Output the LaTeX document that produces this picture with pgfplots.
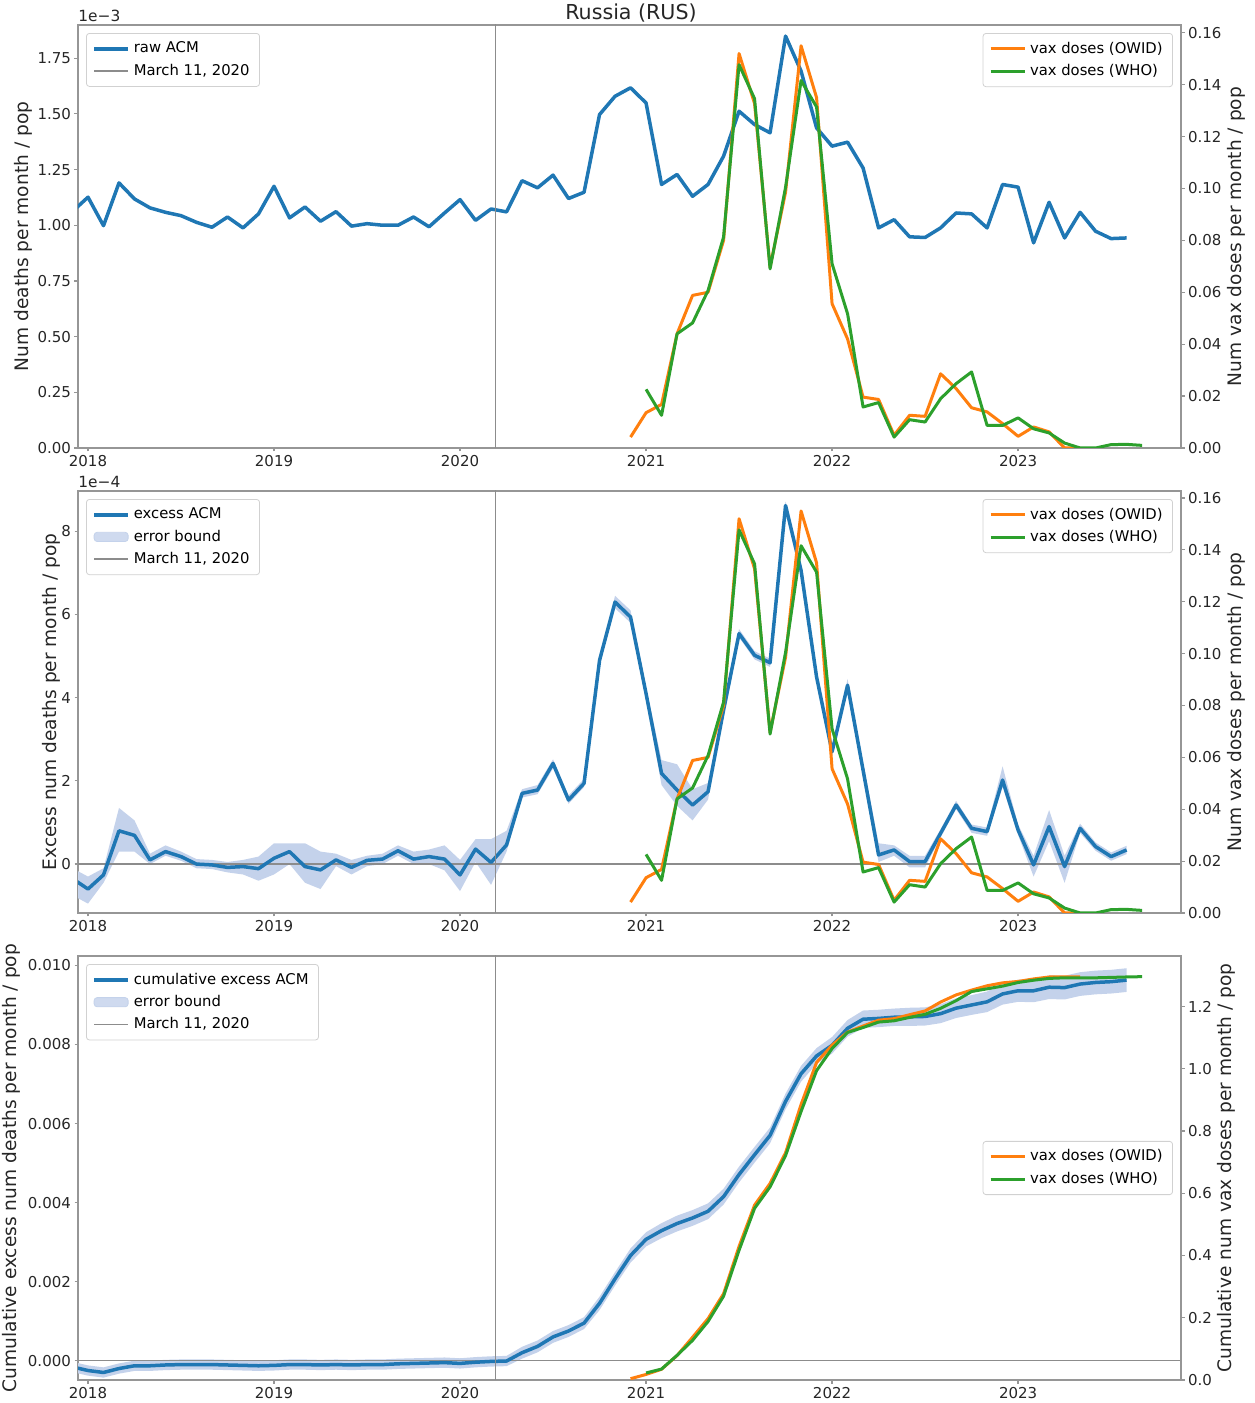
\documentclass[border=0pt]{standalone}
\usepackage{fontspec}
\setmainfont{DejaVu Sans}
\usepackage{pgfplots}
\pgfplotsset{compat=1.18}
\usepackage{pgfplotstable}
\usepgfplotslibrary{fillbetween}

\definecolor{cblue}{HTML}{1F77B4}
\definecolor{corange}{HTML}{FF7F0E}
\definecolor{cgreen}{HTML}{2CA02C}
\definecolor{cband}{RGB}{196,210,235}
\definecolor{cframe}{RGB}{150,150,150}
\definecolor{cvline}{RGB}{140,140,140}

% month index k: k=0 is end of Dec 2017, k=12 end of Dec 2018, ...
\pgfplotstableread{
k v
-1 1.062
0 1.126
1 0.998
2 1.19
3 1.118
4 1.078
5 1.058
6 1.043
7 1.013
8 0.991
9 1.037
10 0.988
11 1.051
12 1.175
13 1.033
14 1.082
15 1.018
16 1.061
17 0.996
18 1.007
19 1.000
20 1.000
21 1.037
22 0.993
23 1.055
24 1.115
25 1.022
26 1.073
27 1.060
28 1.200
29 1.168
30 1.225
31 1.120
32 1.148
33 1.497
34 1.579
35 1.617
36 1.549
37 1.183
38 1.228
39 1.130
40 1.183
41 1.31
42 1.512
43 1.452
44 1.415
45 1.849
46 1.692
47 1.437
48 1.355
49 1.373
50 1.257
51 0.988
52 1.025
53 0.948
54 0.945
55 0.988
56 1.055
57 1.051
58 0.988
59 1.183
60 1.171
61 0.921
62 1.103
63 0.943
64 1.058
65 0.973
66 0.940
67 0.943
}\rawacm

\pgfplotstableread{
k r
35 0.0042
36 0.0136
37 0.0168
38 0.044
39 0.0588
40 0.060
41 0.080
42 0.152
43 0.1327
44 0.0697
45 0.0986
46 0.155
47 0.135
48 0.0556
49 0.042
50 0.0196
51 0.0187
52 0.0049
53 0.0126
54 0.0122
55 0.0286
56 0.0229
57 0.0155
58 0.0139
59 0.0094
60 0.0045
61 0.0081
62 0.0062
63 0.0
64 0.0
}\owid

\pgfplotstableread{
k r
36 0.0226
37 0.0126
38 0.044
39 0.0482
40 0.0607
41 0.0813
42 0.1477
43 0.1346
44 0.069
45 0.1005
46 0.1416
47 0.1314
48 0.071
49 0.0517
50 0.0158
51 0.0175
52 0.0042
53 0.0109
54 0.0100
55 0.019
56 0.0248
57 0.0293
58 0.0087
59 0.0087
60 0.0116
61 0.0074
62 0.0058
63 0.0019
64 0.0
65 0.0
66 0.0013
67 0.0014
68 0.001
}\who

\pgfplotstableread{
k v lo hi
-1 -0.35 -0.75 -0.1
0 -0.6 -0.95 -0.3
1 -0.26 -0.45 -0.1
2 0.8 0.3 1.35
3 0.69 0.3 1.05
4 0.10 0.0 0.25
5 0.30 0.2 0.45
6 0.18 0.08 0.3
7 0.0 -0.1 0.12
8 -0.02 -0.12 0.1
9 -0.08 -0.2 0.05
10 -0.06 -0.25 0.1
11 -0.11 -0.4 0.18
12 0.14 -0.25 0.5
13 0.30 0.0 0.5
14 -0.06 -0.45 0.5
15 -0.14 -0.6 0.3
16 0.10 -0.05 0.25
17 -0.08 -0.25 0.1
18 0.09 -0.05 0.2
19 0.12 0.0 0.25
20 0.32 0.2 0.45
21 0.12 0.0 0.3
22 0.18 0.0 0.35
23 0.12 -0.15 0.45
24 -0.26 -0.65 0.1
25 0.36 0.05 0.6
26 0.04 -0.5 0.6
27 0.46 0.3 0.8
28 1.70 1.6 1.8
29 1.78 1.68 1.9
30 2.42 2.3 2.52
31 1.54 1.45 1.65
32 1.94 1.85 2.05
33 4.9 4.8 5.0
34 6.30 6.15 6.45
35 5.94 5.8 6.1
36 4.1 3.95 4.25
37 2.18 1.9 2.5
38 1.78 1.4 2.4
39 1.42 1.05 1.8
40 1.74 1.55 1.95
41 3.70 3.6 3.8
42 5.54 5.45 5.65
43 5.02 4.92 5.12
44 4.84 4.74 4.94
45 8.62 8.52 8.72
46 7.06 6.96 7.16
47 4.5 4.4 4.6
48 2.70 2.6 2.8
49 4.30 4.15 4.45
50 2.26 2.1 2.45
51 0.22 0.05 0.5
52 0.34 0.2 0.45
53 0.06 -0.08 0.2
54 0.06 -0.08 0.2
55 0.74 0.64 0.84
56 1.42 1.32 1.52
57 0.86 0.75 0.95
58 0.78 0.68 0.88
59 2.02 1.85 2.35
60 0.82 0.7 0.95
61 -0.02 -0.3 0.2
62 0.90 0.55 1.3
63 -0.06 -0.45 0.2
64 0.86 0.75 0.97
65 0.42 0.32 0.52
66 0.18 0.08 0.28
67 0.34 0.24 0.44
}\excess

\pgfplotstableread{
k v lo hi
-1 -0.00016 -0.00029 -0.00003
0 -0.00025 -0.00038 -0.00012
1 -0.00030 -0.00043 -0.00017
2 -0.00020 -0.00033 -0.00007
3 -0.00013 -0.00026 0.00000
4 -0.00013 -0.00026 0.00000
5 -0.00011 -0.00024 0.00002
6 -0.00010 -0.00023 0.00003
7 -0.00010 -0.00023 0.00003
8 -0.00010 -0.00023 0.00003
9 -0.00011 -0.00024 0.00002
10 -0.00012 -0.00025 0.00001
11 -0.00013 -0.00026 0.00000
12 -0.00012 -0.00025 0.00001
13 -0.00010 -0.00023 0.00003
14 -0.00010 -0.00023 0.00003
15 -0.00011 -0.00024 0.00002
16 -0.00010 -0.00023 0.00003
17 -0.00011 -0.00024 0.00002
18 -0.00010 -0.00023 0.00003
19 -0.00010 -0.00023 0.00003
20 -0.00008 -0.00021 0.00005
21 -0.00007 -0.00020 0.00006
22 -0.00006 -0.00019 0.00007
23 -0.00005 -0.00018 0.00008
24 -0.00007 -0.00020 0.00006
25 -0.00004 -0.00017 0.00009
26 -0.00002 -0.00015 0.00011
27 -0.00001 -0.00014 0.00012
28 0.00020 0.00005 0.00035
29 0.00036 0.00021 0.00051
30 0.00060 0.00045 0.00075
31 0.00075 0.00060 0.00090
32 0.00095 0.00080 0.00110
33 0.00145 0.00128 0.00162
34 0.00207 0.00190 0.00224
35 0.00266 0.00248 0.00284
36 0.00307 0.00289 0.00325
37 0.00329 0.00310 0.00348
38 0.00347 0.00327 0.00367
39 0.00361 0.00341 0.00381
40 0.00378 0.00358 0.00398
41 0.00415 0.00395 0.00435
42 0.00471 0.00451 0.00491
43 0.00521 0.00501 0.00541
44 0.00570 0.00550 0.00590
45 0.00656 0.00636 0.00676
46 0.00726 0.00706 0.00746
47 0.00771 0.00751 0.00791
48 0.00798 0.00777 0.00819
49 0.00841 0.00820 0.00862
50 0.00864 0.00842 0.00886
51 0.00866 0.00844 0.00888
52 0.00869 0.00847 0.00891
53 0.00870 0.00847 0.00893
54 0.00871 0.00848 0.00894
55 0.00878 0.00854 0.00902
56 0.00892 0.00867 0.00917
57 0.00900 0.00875 0.00925
58 0.00908 0.00882 0.00934
59 0.00928 0.00901 0.00955
60 0.00936 0.00908 0.00964
61 0.00936 0.00907 0.00965
62 0.00945 0.00915 0.00975
63 0.00944 0.00914 0.00974
64 0.00953 0.00923 0.00983
65 0.00957 0.00927 0.00987
66 0.00959 0.00929 0.00989
67 0.00963 0.00933 0.00993
}\cumexcess

\pgfplotstableread{
k c
35 0.0042
36 0.0178
37 0.0346
38 0.0786
39 0.1374
40 0.1974
41 0.2774
42 0.4294
43 0.5621
44 0.6318
45 0.7304
46 0.8854
47 1.0204
48 1.0760
49 1.1180
50 1.1376
51 1.1563
52 1.1612
53 1.1738
54 1.1860
55 1.2146
56 1.2375
57 1.2530
58 1.2669
59 1.2763
60 1.2808
61 1.2889
62 1.2951
63 1.2951
64 1.2951
}\cumowid

\pgfplotstableread{
k c
36 0.0226
37 0.0352
38 0.0792
39 0.1274
40 0.1881
41 0.2694
42 0.4171
43 0.5517
44 0.6207
45 0.7212
46 0.8628
47 0.9942
48 1.0652
49 1.1169
50 1.1327
51 1.1502
52 1.1544
53 1.1653
54 1.1753
55 1.1943
56 1.2191
57 1.2484
58 1.2571
59 1.2658
60 1.2774
61 1.2848
62 1.2906
63 1.2925
64 1.2925
65 1.2925
66 1.2938
67 1.2952
68 1.2962
}\cumwho

\pgfplotsset{
 base/.style={
  scale only axis, width=551.5pt,
  xmin=-0.645, xmax=70.51,
  xtick={0,12,24,36,48,60}, xticklabels={2018,2019,2020,2021,2022,2023},
  clip mode=individual,
  /pgf/number format/assume math mode=true,
  tick label style={font=\fontsize{7.5}{9}\selectfont, text=black!85, inner sep=1.6pt},
  axis line style={cframe, line width=0.8pt},
  tick style={cframe, line width=0.6pt},
  tick align=outside, major tick length=1.75pt,
  scaled y ticks=false,
  legend style={font=\fontsize{7.4}{9}\selectfont, draw=black!18, rounded corners=1.5pt,
    fill=white, fill opacity=0.8, text opacity=1, inner xsep=3pt, inner ysep=2.2pt,
    row sep=0pt, cells={anchor=west}},
  legend cell align=left,
 },
 lft/.style={base, xtick pos=bottom, ytick pos=left},
 rgt/.style={base, axis y line*=right, axis x line=none, ytick pos=right},
 ylab/.style={every axis y label/.style={at={(rel axis cs:#1,0.5)}, rotate=90, anchor=center,
   font=\fontsize{9.3}{11}\selectfont, text=black!85}},
 blueline/.style={cblue, line width=1.75pt, line join=round,
   legend image code/.code={\draw[cblue, line width=1.7pt] (0pt,0pt) -- (17pt,0pt);}},
 orline/.style={corange, line width=1.5pt, line join=round,
   legend image code/.code={\draw[corange, line width=1.5pt] (0pt,0pt) -- (17pt,0pt);}},
 grline/.style={cgreen, line width=1.5pt, line join=round,
   legend image code/.code={\draw[cgreen, line width=1.5pt] (0pt,0pt) -- (17pt,0pt);}},
 vline/.style={cvline, line width=0.7pt,
   legend image code/.code={\draw[cvline, line width=0.7pt] (0pt,0pt) -- (17pt,0pt);}},
 bandimg/.style={legend image code/.code={\fill[cband] (0pt,-2.3pt) rectangle (17pt,2.3pt);}},
}

\begin{document}
\begin{tikzpicture}

\node[font=\fontsize{10.3}{12}\selectfont, text=black!85] at (315.5pt,695pt) {Russia (RUS)};

% ---------------- Panel 1 ----------------
\begin{axis}[lft, at={(39pt,477.5pt)}, anchor=south west, height=211.5pt,
  ymin=0, ymax=1.899, ytick={0,0.25,0.5,0.75,1,1.25,1.5,1.75},
  yticklabel style={/pgf/number format/fixed, /pgf/number format/fixed zerofill, /pgf/number format/precision=2},
  ylab=-0.0499, ylabel={Num deaths per month / pop},
  legend style={at={(0.0073,0.981)}, anchor=north west}]
\addplot[blueline] table[x=k, y=v] {\rawacm};
\addlegendentry{raw ACM}
\addplot[vline] coordinates {(26.3,-1) (26.3,3)};
\addlegendentry{March 11, 2020}
\node[anchor=south west, inner sep=0pt, yshift=1.6pt, font=\fontsize{7.7}{9}\selectfont, text=black!85] at (rel axis cs:0,1) {1e−3};
\end{axis}
\begin{axis}[rgt, at={(39pt,477.5pt)}, anchor=south west, height=211.5pt,
  ymin=0, ymax=0.163, ytick={0,0.02,0.04,0.06,0.08,0.1,0.12,0.14,0.16},
  yticklabel style={/pgf/number format/fixed, /pgf/number format/fixed zerofill, /pgf/number format/precision=2},
  ylab=1.0499, ylabel={Num vax doses per month / pop},
  legend style={at={(0.9927,0.981)}, anchor=north east}]
\addplot[orline] table[x=k, y=r] {\owid};
\addlegendentry{vax doses (OWID)}
\addplot[grline] table[x=k, y=r] {\who};
\addlegendentry{vax doses (WHO)}
\end{axis}

% ---------------- Panel 2 ----------------
\begin{axis}[lft, at={(39pt,245pt)}, anchor=south west, height=211pt,
  ymin=-1.176, ymax=8.97, ytick={0,2,4,6,8},
  ylab=-0.0245, ylabel={Excess num deaths per month / pop},
  legend style={at={(0.0073,0.981)}, anchor=north west}]
\addplot[name path=U2, draw=none, forget plot] table[x=k, y=hi] {\excess};
\addplot[name path=L2, draw=none, forget plot] table[x=k, y=lo] {\excess};
\addplot[cband, draw=none, forget plot] fill between[of=U2 and L2];
\addplot[vline, forget plot] coordinates {(-5,0) (80,0)};
\addplot[blueline] table[x=k, y=v] {\excess};
\addlegendentry{excess ACM}
\addlegendimage{bandimg}
\addlegendentry{error bound}
\addplot[vline] coordinates {(26.3,-5) (26.3,15)};
\addlegendentry{March 11, 2020}
\node[anchor=south west, inner sep=0pt, yshift=1.6pt, font=\fontsize{7.7}{9}\selectfont, text=black!85] at (rel axis cs:0,1) {1e−4};
\end{axis}
\begin{axis}[rgt, at={(39pt,245pt)}, anchor=south west, height=211pt,
  ymin=0, ymax=0.1627, ytick={0,0.02,0.04,0.06,0.08,0.1,0.12,0.14,0.16},
  yticklabel style={/pgf/number format/fixed, /pgf/number format/fixed zerofill, /pgf/number format/precision=2},
  ylab=1.0499, ylabel={Num vax doses per month / pop},
  legend style={at={(0.9927,0.981)}, anchor=north east}]
\addplot[orline] table[x=k, y=r] {\owid};
\addlegendentry{vax doses (OWID)}
\addplot[grline] table[x=k, y=r] {\who};
\addlegendentry{vax doses (WHO)}
\end{axis}

% ---------------- Panel 3 ----------------
\begin{axis}[lft, at={(39pt,11.5pt)}, anchor=south west, height=212pt,
  ymin=-0.00049, ymax=0.01024, ytick={0,0.002,0.004,0.006,0.008,0.010},
  yticklabel style={/pgf/number format/fixed, /pgf/number format/fixed zerofill, /pgf/number format/precision=3},
  ylab=-0.0607, ylabel={Cumulative excess num deaths per month / pop},
  legend style={at={(0.0073,0.981)}, anchor=north west}]
\addplot[name path=U3, draw=none, forget plot] table[x=k, y=hi] {\cumexcess};
\addplot[name path=L3, draw=none, forget plot] table[x=k, y=lo] {\cumexcess};
\addplot[cband, draw=none, forget plot] fill between[of=U3 and L3];
\addplot[vline, forget plot] coordinates {(-5,0) (80,0)};
\addplot[blueline] table[x=k, y=v] {\cumexcess};
\addlegendentry{cumulative excess ACM}
\addlegendimage{bandimg}
\addlegendentry{error bound}
\addplot[vline] coordinates {(26.3,-0.01) (26.3,0.02)};
\addlegendentry{March 11, 2020}
\end{axis}
\begin{axis}[rgt, at={(39pt,11.5pt)}, anchor=south west, height=212pt,
  ymin=0, ymax=1.3626, ytick={0,0.2,0.4,0.6,0.8,1.0,1.2},
  yticklabel style={/pgf/number format/fixed, /pgf/number format/fixed zerofill, /pgf/number format/precision=1},
  ylab=1.0408, ylabel={Cumulative num vax doses per month / pop},
  legend style={at={(0.9927,0.5)}, anchor=east}]
\addplot[orline] table[x=k, y=c] {\cumowid};
\addlegendentry{vax doses (OWID)}
\addplot[grline] table[x=k, y=c] {\cumwho};
\addlegendentry{vax doses (WHO)}
\end{axis}

\pgfresetboundingbox
\path[use as bounding box] (0,0) rectangle (627pt,701.5pt);
\end{tikzpicture}
\end{document}
